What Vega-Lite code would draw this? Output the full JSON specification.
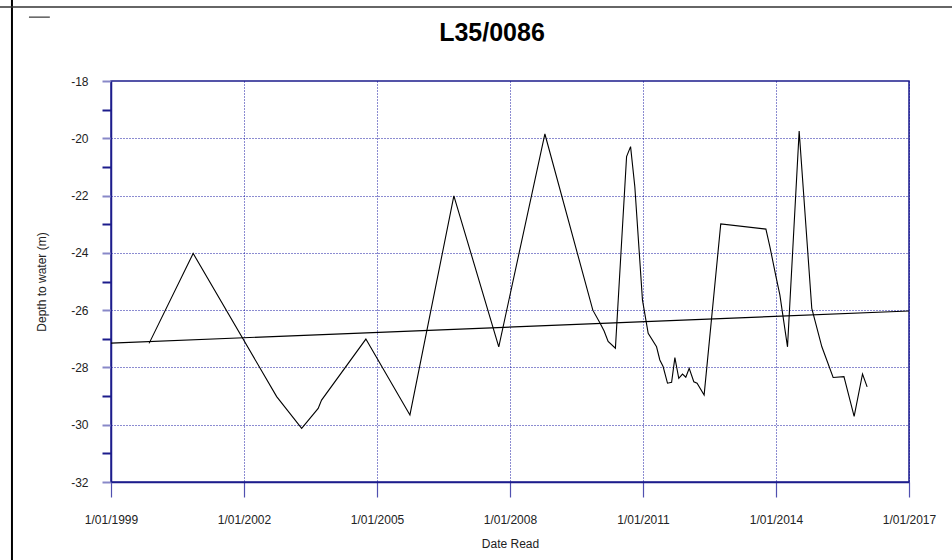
{
  "$schema": "https://vega.github.io/schema/vega-lite/v6.json",
  "width": 798,
  "height": 401,
  "autosize": "none",
  "padding": {"left": 111, "top": 81, "right": 43, "bottom": 78},
  "background": "white",
  "title": {
    "text": "L35/0086",
    "font": "Liberation Sans",
    "fontSize": 25,
    "fontWeight": "bold",
    "color": "black",
    "anchor": "middle",
    "baseline": "alphabetic",
    "offset": -69,
    "dx": -18
  },
  "config": {
    "font": "Liberation Sans",
    "view": {"stroke": "#1c1c8c", "strokeWidth": 1.5}
  },
  "resolve": {"axis": {"x": "independent", "y": "independent"}},
  "datasets": {
    "levels": [
      {"date": "1999-11-11", "depth": -27.16},
      {"date": "2000-11-08", "depth": -24.02},
      {"date": "2002-09-27", "depth": -29.02},
      {"date": "2003-04-21", "depth": -30.13},
      {"date": "2003-09-04", "depth": -29.43},
      {"date": "2003-10-02", "depth": -29.14},
      {"date": "2004-10-01", "depth": -27.01},
      {"date": "2005-09-29", "depth": -29.66},
      {"date": "2006-09-26", "depth": -22.01},
      {"date": "2007-10-01", "depth": -27.28},
      {"date": "2008-10-15", "depth": -19.85},
      {"date": "2009-11-14", "depth": -26.0},
      {"date": "2010-01-12", "depth": -26.45},
      {"date": "2010-02-15", "depth": -26.73},
      {"date": "2010-03-20", "depth": -27.09},
      {"date": "2010-05-19", "depth": -27.33},
      {"date": "2010-08-19", "depth": -20.64},
      {"date": "2010-09-21", "depth": -20.29},
      {"date": "2010-10-26", "depth": -21.69},
      {"date": "2010-12-28", "depth": -25.65},
      {"date": "2011-02-13", "depth": -26.81},
      {"date": "2011-04-23", "depth": -27.28},
      {"date": "2011-05-20", "depth": -27.74},
      {"date": "2011-06-16", "depth": -27.97},
      {"date": "2011-07-22", "depth": -28.55},
      {"date": "2011-08-25", "depth": -28.52},
      {"date": "2011-09-21", "depth": -27.66},
      {"date": "2011-10-23", "depth": -28.38},
      {"date": "2011-11-23", "depth": -28.23},
      {"date": "2011-12-20", "depth": -28.34},
      {"date": "2012-01-17", "depth": -28.03},
      {"date": "2012-02-24", "depth": -28.5},
      {"date": "2012-03-22", "depth": -28.55},
      {"date": "2012-05-19", "depth": -28.96},
      {"date": "2012-10-03", "depth": -22.99},
      {"date": "2013-10-10", "depth": -23.17},
      {"date": "2013-11-12", "depth": -23.79},
      {"date": "2014-01-01", "depth": -24.83},
      {"date": "2014-02-02", "depth": -25.47},
      {"date": "2014-04-06", "depth": -27.28},
      {"date": "2014-07-11", "depth": -19.75},
      {"date": "2014-10-23", "depth": -25.94},
      {"date": "2015-01-14", "depth": -27.28},
      {"date": "2015-04-17", "depth": -28.35},
      {"date": "2015-07-15", "depth": -28.32},
      {"date": "2015-10-07", "depth": -29.71},
      {"date": "2015-12-15", "depth": -28.23},
      {"date": "2016-01-22", "depth": -28.68}
    ],
    "trend": [
      {"date": "1999-01-01", "depth": -27.15},
      {"date": "2017-01-01", "depth": -26.03}
    ]
  },
  "layer": [
    {
      "data": {"name": "trend"},
      "mark": {"type": "line", "color": "black", "strokeWidth": 1.2},
      "encoding": {
        "x": {
          "field": "date",
          "type": "temporal",
          "title": "Date Read",
          "scale": {
            "type": "utc",
            "domain": [
              {"year": 1999, "month": 1, "date": 1, "utc": true},
              {"year": 2017, "month": 1, "date": 1, "utc": true}
            ]
          },
          "axis": {
            "orient": "bottom",
            "values": [
              {"year": 1999, "month": 1, "date": 1, "utc": true},
              {"year": 2002, "month": 1, "date": 1, "utc": true},
              {"year": 2005, "month": 1, "date": 1, "utc": true},
              {"year": 2008, "month": 1, "date": 1, "utc": true},
              {"year": 2011, "month": 1, "date": 1, "utc": true},
              {"year": 2014, "month": 1, "date": 1, "utc": true},
              {"year": 2017, "month": 1, "date": 1, "utc": true}
            ],
            "format": "%-d/%m/%Y",
            "labelFont": "Liberation Sans",
            "labelFontSize": 12,
            "labelColor": "#222222",
            "labelPadding": 17,
            "labelFlush": false,
            "ticks": true,
            "tickSize": 15,
            "tickColor": "#5050b0",
            "tickWidth": 1.2,
            "domainColor": "#1c1c8c",
            "domainWidth": 1.5,
            "grid": true,
            "gridColor": "#00009a",
            "gridDash": [1, 2],
            "gridOpacity": 0.9,
            "gridWidth": 1,
            "titleFont": "Liberation Sans",
            "titleFontSize": 12,
            "titleFontWeight": "normal",
            "titleColor": "#222222",
            "titlePadding": 13
          }
        },
        "y": {
          "field": "depth",
          "type": "quantitative",
          "title": "Depth to water (m)",
          "scale": {"domain": [-32, -18], "nice": false, "zero": false},
          "axis": {
            "orient": "left",
            "values": [-32, -31, -30, -29, -28, -27, -26, -25, -24, -23, -22, -21, -20, -19, -18],
            "labelExpr": "datum.value % 2 === 0 ? '' + datum.value : ''",
            "labelFont": "Liberation Sans",
            "labelFontSize": 12,
            "labelColor": "#222222",
            "labelPadding": 14,
            "ticks": true,
            "tickSize": 9,
            "tickColor": {"expr": "datum.value % 2 === 0 ? '#8888c8' : '#1c1c8c'"},
            "tickWidth": 2,
            "domainColor": "#1c1c8c",
            "domainWidth": 1.5,
            "grid": true,
            "gridColor": "#00009a",
            "gridDash": [1, 2],
            "gridOpacity": {"expr": "datum.value % 2 === 0 && datum.value > -32 && datum.value < -18 ? 0.9 : 0"},
            "gridWidth": 1,
            "titleFont": "Liberation Sans",
            "titleFontSize": 12,
            "titleFontWeight": "normal",
            "titleColor": "#222222",
            "titlePadding": 22
          }
        }
      }
    },
    {
      "data": {"name": "levels"},
      "mark": {"type": "line", "color": "black", "strokeWidth": 1.1},
      "encoding": {
        "x": {"field": "date", "type": "temporal", "axis": null},
        "y": {"field": "depth", "type": "quantitative", "axis": null}
      }
    },
    {
      "data": {"values": [{}]},
      "mark": {"type": "rule", "color": "black", "strokeWidth": 2, "clip": false},
      "encoding": {
        "x": {"datum": {"year": 1996, "month": 10, "date": 7, "utc": true}, "type": "temporal", "axis": null},
        "y": {"datum": -15.1, "type": "quantitative", "axis": null},
        "y2": {"datum": -34.9}
      }
    },
    {
      "data": {"values": [{}]},
      "mark": {"type": "rule", "color": "#333333", "strokeWidth": 1.5, "clip": false},
      "encoding": {
        "x": {"datum": {"year": 1996, "month": 6, "date": 20, "utc": true}, "type": "temporal", "axis": null},
        "x2": {"datum": {"year": 2018, "month": 1, "date": 1, "utc": true}},
        "y": {"datum": -15.42, "type": "quantitative", "axis": null}
      }
    },
    {
      "data": {"values": [{}]},
      "mark": {"type": "rule", "color": "#333333", "strokeWidth": 1.2, "clip": false},
      "encoding": {
        "x": {"datum": {"year": 1997, "month": 2, "date": 24, "utc": true}, "type": "temporal", "axis": null},
        "x2": {"datum": {"year": 1997, "month": 8, "date": 15, "utc": true}},
        "y": {"datum": -15.77, "type": "quantitative", "axis": null}
      }
    }
  ]
}
